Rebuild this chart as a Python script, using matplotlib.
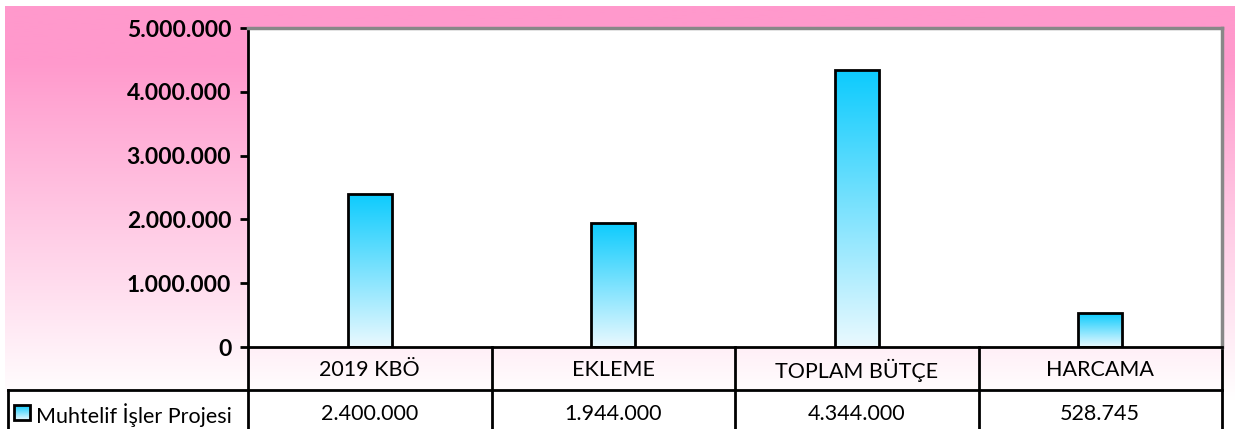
import numpy as np
import matplotlib
matplotlib.use('Agg')
import matplotlib.pyplot as plt
from matplotlib.colors import LinearSegmentedColormap
from matplotlib.ticker import FuncFormatter, MultipleLocator
from matplotlib.patches import Rectangle

categories = ['2019 KBÖ', 'EKLEME', 'TOPLAM BÜTÇE', 'HARCAMA']
values = [2400000, 1944000, 4344000, 528745]
series_name = 'Muhtelif İşler Projesi'


def fmt(v):
    return f'{int(round(v)):,}'.replace(',', '.')


plt.rcParams['font.family'] = ['Lato', 'DejaVu Sans']

W, H = 1235, 429
fig = plt.figure(figsize=(W / 100, H / 100), dpi=100)
fig.patch.set_facecolor('white')

# pink background, fading to white towards the bottom
bg = fig.add_axes([0, 0, 1, 1], zorder=-1)
bg.axis('off')
pink = LinearSegmentedColormap.from_list(
    'pink', [(0, '#ff99cc'), (0.13, '#ff99cc'), (0.93, '#ffffff'), (1, '#ffffff')])
grad = np.linspace(0, 1, 256).reshape(-1, 1)
bg.imshow(grad, cmap=pink, extent=[5, W, H, 6], aspect='auto', origin='upper')
bg.set_xlim(0, W)
bg.set_ylim(H, 0)

# legend key in the table row label
cyan = LinearSegmentedColormap.from_list('cyan', ['#eaf9ff', '#0ccbfd'])
key = Rectangle((14, 405), 16, 15, facecolor='none', edgecolor='black', lw=2, zorder=3)
bg.add_patch(key)
kim = bg.imshow(grad, cmap=cyan, extent=[14, 30, 420, 405], aspect='auto', origin='lower', zorder=2)
kim.set_clip_path(key)
bg.text(36, 415, series_name, fontsize=15.5, va='center', ha='left', color='black')

ax = fig.add_axes([248 / W, (H - 347) / H, 974 / W, 319 / H])
ax.set_facecolor('white')

bw = 0.18
for i, v in enumerate(values):
    rect = ax.bar(i, v, bw, facecolor='none', edgecolor='black', lw=2, zorder=3)[0]
    im = ax.imshow(grad, cmap=cyan, extent=[i - bw / 2, i + bw / 2, 0, v],
                   aspect='auto', origin='lower', zorder=2)
    im.set_clip_path(rect)

ax.set_xlim(-0.5, len(categories) - 0.5)
ax.set_ylim(0, 5000000)
ax.set_aspect('auto')
ax.yaxis.set_major_locator(MultipleLocator(1000000))
ax.yaxis.set_major_formatter(FuncFormatter(lambda v, p: fmt(v)))
ax.set_xticks([])
ax.tick_params(axis='y', length=6, width=2, color='black', labelsize=16.5, pad=6)
for lab in ax.get_yticklabels():
    lab.set_fontweight('bold')

for s in ['left', 'bottom']:
    ax.spines[s].set_color('black')
    ax.spines[s].set_linewidth(2)
for s in ['top', 'right']:
    ax.spines[s].set_color('#888888')
    ax.spines[s].set_linewidth(2.5)

# data table below the axis
tr = ax.get_xaxis_transform()
rh = 43 / 319
y_bot = -90 / 319
x_left = -0.5 - 240 / 243.5
n = len(categories)
for k in range(n + 1):
    ax.plot([k - 0.5, k - 0.5], [0, y_bot], color='black', lw=2, transform=tr, clip_on=False)
ax.plot([x_left, n - 0.5], [-rh, -rh], color='black', lw=2, transform=tr, clip_on=False)
ax.plot([x_left, x_left], [-rh, y_bot], color='black', lw=2, transform=tr, clip_on=False)
for i, (c, v) in enumerate(zip(categories, values)):
    ax.text(i, -23 / 319, c, transform=tr, ha='center', va='center', fontsize=15.5)
    ax.text(i, -67 / 319, fmt(v), transform=tr, ha='center', va='center', fontsize=15.5)

fig.savefig('out.png', dpi=100)
